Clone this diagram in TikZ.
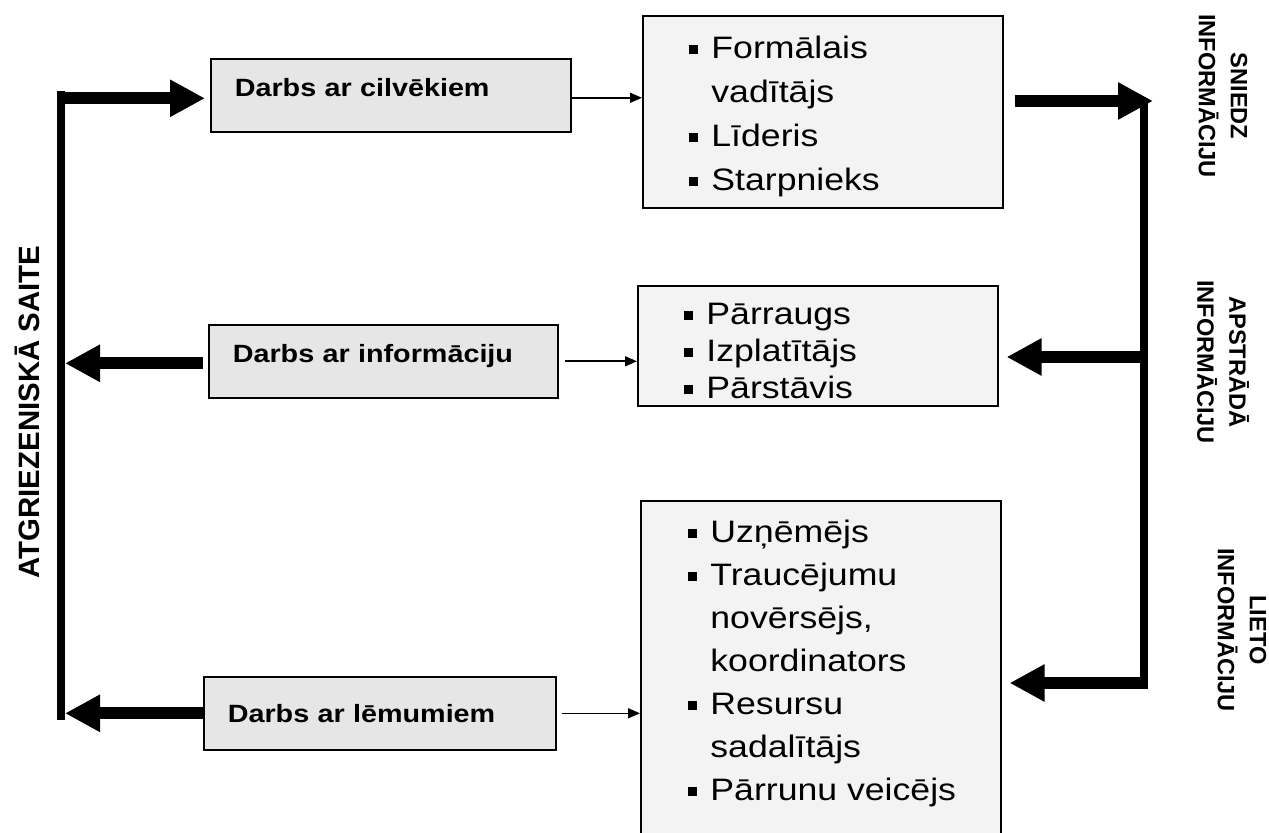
\documentclass[tikz,border=0pt]{standalone}
\usepackage{fontspec}
\setmainfont{Liberation Sans}[FakeStretch=1.15]
\newfontfamily\plainsans{Liberation Sans}
\usetikzlibrary{arrows.meta,positioning,calc}

\definecolor{workgray}{HTML}{E6E6E6}
\definecolor{listgray}{HTML}{F3F3F3}

\newcommand{\sqb}{\makebox[11pt][l]{\rule[2.3pt]{4.5pt}{4.5pt}}}
\newcommand{\ind}{\makebox[11pt]{}}

\tikzset{
  workbox/.style={draw, line width=0.8pt, fill=workgray, inner xsep=12pt,
    align=left, text height=9pt, minimum height=36.5pt, anchor=north west,
    font=\bfseries\fontsize{12.5}{15}\selectfont},
  listbox/.style={draw, line width=0.8pt, fill=listgray, anchor=north west},
  listtext/.style={inner sep=0pt, align=left, anchor=north west},
  fatarrow/.style={line width=6pt, -{Triangle[length=17.5pt,width=17.5pt]}},
  thinarrow/.style={line width=0.8pt, -{Triangle[length=6pt,width=5pt]}},
  bar/.style={line width=4pt},
  sidelabel/.style={font=\plainsans\bfseries\fontsize{11.8}{16}\selectfont,
    align=center, rotate=-90},
}

\begin{document}
\begin{tikzpicture}[x=0.5pt,y=-0.5pt]
        \useasboundingbox (0,0) rectangle (1269,833);

        % work boxes
        \node[workbox, text width=156pt, text depth=7.5pt] (b1) at (210,58) {Darbs ar cilvēkiem};
        \node[workbox, text width=150.5pt, text depth=8pt] (b2) at (208,324) {Darbs ar informāciju};
        \node[workbox, text width=152pt, text depth=0pt] (b3) at (203,676) {Darbs ar lēmumiem};

        % role boxes
        \node[listbox, minimum width=180pt, minimum height=96pt] (l1) at (642,15) {};
        \node[listbox, minimum width=180pt, minimum height=60pt] (l2) at (637,285) {};
        \node[listbox, minimum width=180pt, minimum height=175pt] (l3) at (640,500) {};

        \node[listtext, font=\fontsize{15.5}{22}\selectfont] (t1) at ($(l1.north west)+(47,21)$)
          {\sqb Formālais\\ \ind vadītājs\\ \sqb Līderis\\ \sqb Starpnieks};
        \node[listtext, font=\fontsize{15.5}{18.5}\selectfont] (t2) at ($(l2.north west)+(47,18)$)
          {\sqb Pārraugs\\ \sqb Izplatītājs\\ \sqb Pārstāvis};
        \node[listtext, font=\fontsize{15.5}{21.5}\selectfont] (t3) at ($(l3.north west)+(48,20)$)
          {\sqb Uzņēmējs\\ \sqb Traucējumu\\ \ind novērsējs,\\ \ind koordinators\\
           \sqb Resursu\\ \ind sadalītājs\\ \sqb Pārrunu veicējs};

        % feedback bars
        \coordinate (fbtop) at (61,91);
        \coordinate (fbbot) at (61,720);
        \coordinate (rbtop) at (1144,101);
        \coordinate (rbmid) at (1144,357);
        \coordinate (rbbot) at (1144,683);
        \draw[bar] (fbtop) -- (fbbot);
        \draw[bar] (rbtop) -- ($(rbbot)+(0,6)$);

        \draw[fatarrow] ($(fbtop |- b1.west)+(0,3)$) -- ($(b1.west)+(-5,3)$);
        \draw[fatarrow] ($(b2.west)+(-5,2)$) -- ($(b2.west -| fbtop)+(4,2)$);
        \draw[fatarrow] (b3.west) -- ($(b3.west -| fbtop)+(4,0)$);

        \draw[thinarrow] ($(b1.east)+(0,2.5)$) -- ($(b1.east -| l1.west)+(0,2.5)$);
        \draw[thinarrow] ($(b2.east)+(6,0)$) -- (b2.east -| l2.west);
        \draw[thinarrow] ($(b3.east)+(5,0)$) -- (b3.east -| l3.west);

        \draw[fatarrow] ($(rbtop -| l1.east)+(11,0)$) -- ($(rbtop)+(9,0)$);
        \draw[fatarrow] (rbmid) -- ($(rbmid -| l2.east)+(8,0)$);
        \draw[fatarrow] (rbbot) -- ($(rbbot -| l3.east)+(8,0)$);

        % side texts
        \node[rotate=90, font=\plainsans\bfseries\fontsize{14.7}{17}\selectfont] (fb) at (27,412) {ATGRIEZENISKĀ SAITE};
        \node[sidelabel] (s1) at (1223,96) {SNIEDZ\\ INFORMĀCIJU};
        \node[sidelabel] (s2) at (1223,362) {APSTRĀDĀ\\ INFORMĀCIJU};
        \node[sidelabel] (s3) at (1242,630) {LIETO\\ INFORMĀCIJU};
      \end{tikzpicture}
\end{document}
